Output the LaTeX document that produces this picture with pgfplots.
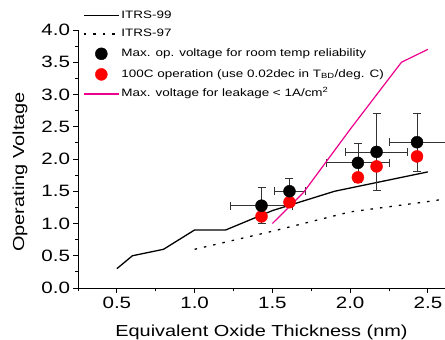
\documentclass[border=0pt]{standalone}
\usepackage{fontspec}
\setmainfont{Liberation Sans}[FakeStretch=1.25]
\usepackage{pgfplots}
\pgfplotsset{compat=1.18}
\pgfplotsset{
  linelegend/.style={legend image code/.code={\draw[##1] (0bp,0bp) -- (35bp,0bp);}},
  blacklegend/.style={legend image code/.code={\fill[black] (17.5bp,0bp) circle[radius=6bp];}},
  redlegend/.style={legend image code/.code={\fill[red] (17.5bp,0bp) circle[radius=6bp];}},
}
\begin{document}
\begin{tikzpicture}
\begin{axis}[
  scale only axis, width=367bp, height=258bp,
  xmin=0.25, xmax=2.61, ymin=0, ymax=4.0,
  axis x line*=bottom, axis y line*=left,
  axis line style={line width=0.8bp},
  tick align=outside, tick style={black, line width=0.8bp},
  major tick length=4.5bp, minor tick length=3bp,
  xtick={0.5,1.0,1.5,2.0,2.5}, minor xtick={0.25,0.75,1.25,1.75,2.25},
  ytick={0,0.5,1,1.5,2,2.5,3,3.5,4}, minor ytick={0.25,0.75,1.25,1.75,2.25,2.75,3.25,3.75},
  xticklabel style={/pgf/number format/.cd, fixed, fixed zerofill, precision=1},
  yticklabel style={/pgf/number format/.cd, fixed, fixed zerofill, precision=1},
  /pgf/number format/assume math mode=true,
  ticklabel style={font=\fontsize{16.5}{18}\selectfont},
  label style={font=\fontsize{16}{18}\selectfont},
  xticklabel shift=1bp,
  xlabel={Equivalent Oxide Thickness (nm)},
  ylabel={Operating Voltage},
  xlabel style={at={(axis description cs:0.5,0)}, anchor=base, yshift=-48bp},
  ylabel style={at={(axis description cs:-0.158,0.45)}, anchor=center},
  clip=false,
  legend cell align=left,
  legend style={draw=none, fill=none, font=\fontsize{10.8}{13}\selectfont,
    at={(axis description cs:0,1)}, anchor=north west, xshift=5bp, yshift=20bp,
    row sep=8.2bp, inner sep=0bp,
    nodes={inner xsep=2bp, inner ysep=0bp, text height=8bp, text depth=2.5bp}},
]
\addplot[black, line width=1.3bp, linelegend] coordinates {
 (0.5,0.3) (0.6,0.5) (0.8,0.6) (1.0,0.9) (1.2,0.9) (1.5,1.2) (1.9,1.5) (2.5,1.8)};
\addlegendentry{ITRS-99}
\addplot[black, line width=1.3bp, dash pattern=on 2.5bp off 7bp, linelegend] coordinates {
 (1.0,0.6) (1.5,0.88) (2.0,1.18) (2.5,1.34) (2.61,1.38)};
\addlegendentry{ITRS-97}
\addplot[only marks, mark=*, mark size=6bp, red, mark options={draw=red, fill=red}, forget plot] coordinates {
 (1.43,1.11) (1.61,1.33) (2.05,1.715) (2.17,1.885) (2.43,2.04)};
\addplot[only marks, mark=*, mark size=6bp, black, blacklegend,
  error bars/.cd, x dir=both, y dir=both, x explicit, y explicit,
  error bar style={line width=0.8bp, black!80},
  error mark options={rotate=90, mark size=4bp, line width=0.8bp, black!80}]
 coordinates {
 (1.43,1.276) +- (0.2,0.28)
 (1.61,1.50) +- (0.1,0.2)
 (2.05,1.94) +- (0.2,0.3)
 (2.17,2.11) +- (0.2,0.6)
 (2.43,2.26) +- (0.18,0.45)
};
\addlegendentry{Max. op. voltage for room temp reliability}
\addlegendimage{redlegend}
\addlegendentry{100C operation (use 0.02dec in T\textsubscript{BD}/deg. C)}
\addplot[magenta, line width=1.2bp, linelegend] coordinates {
 (1.5,1.0) (1.7,1.48) (2.0,2.46) (2.33,3.5) (2.5,3.7)};
\addlegendentry{Max. voltage for leakage < 1A/cm\textsuperscript{2}}
\end{axis}
\pgfresetboundingbox
\useasboundingbox (-78bp,-52bp) rectangle (367bp,288bp);
\end{tikzpicture}
\end{document}
